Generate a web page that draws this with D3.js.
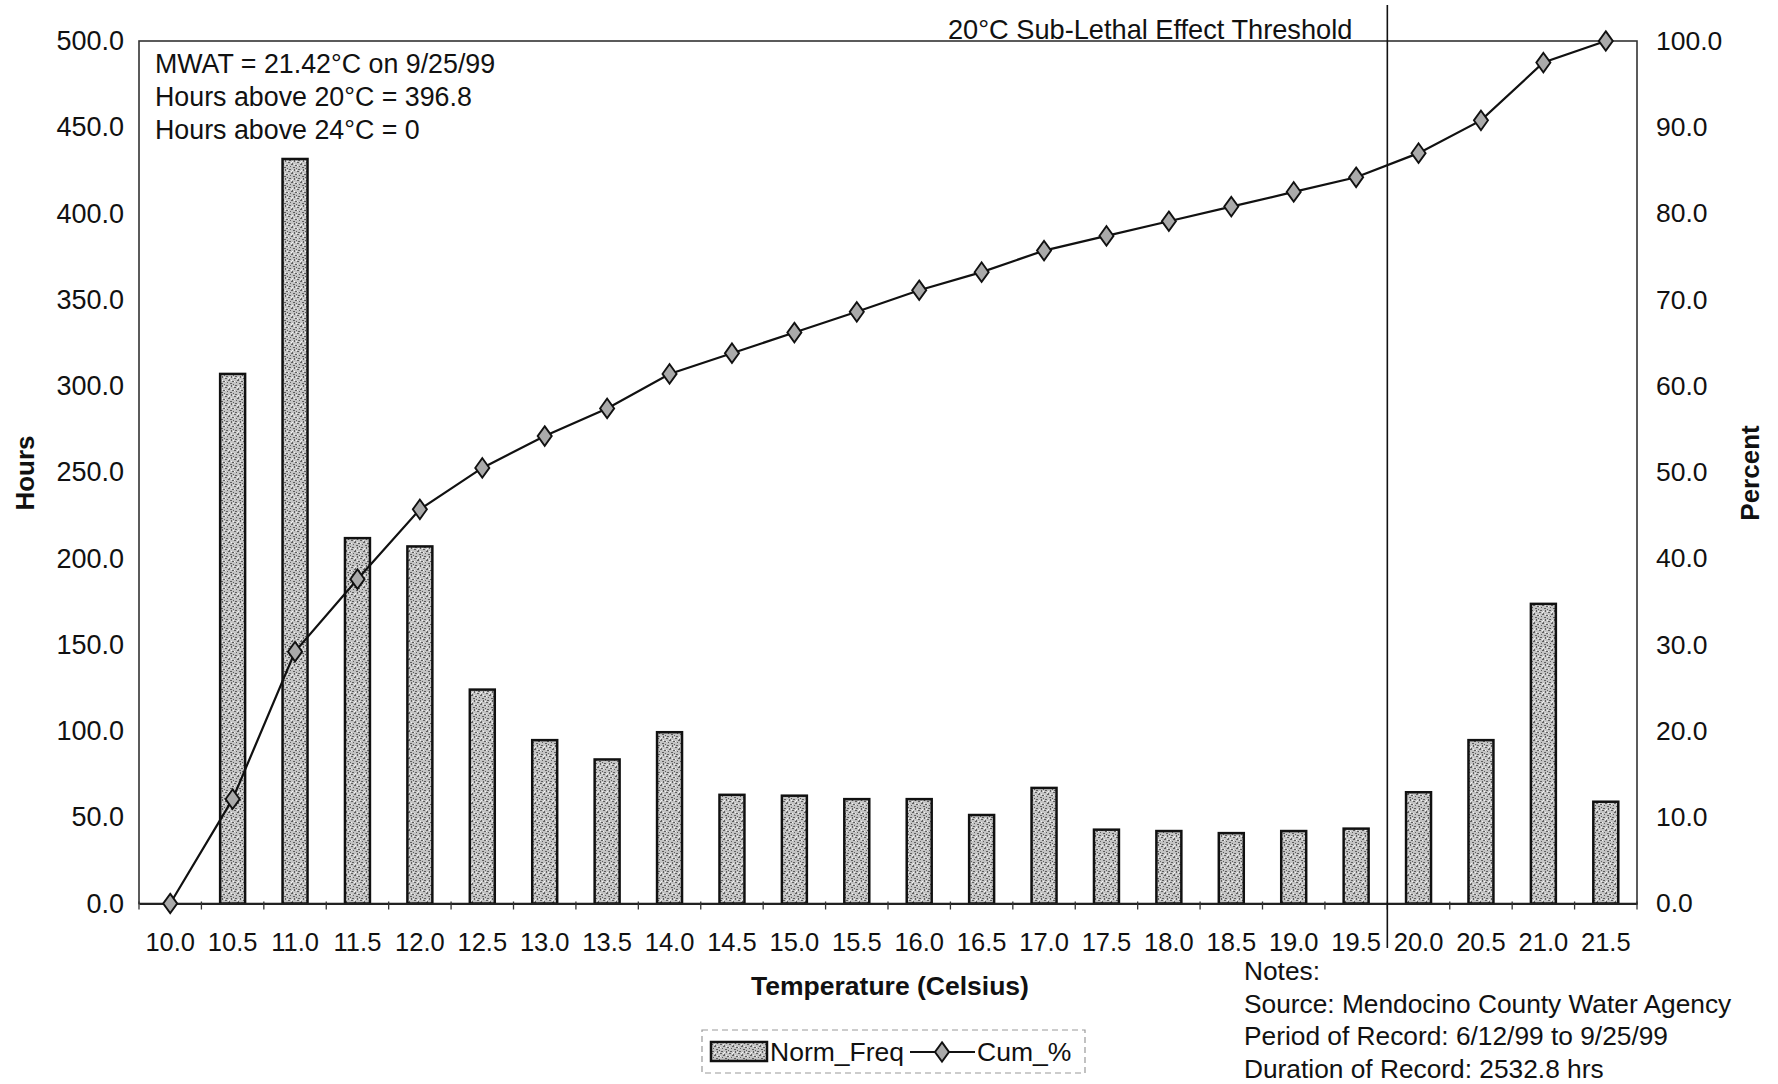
<!DOCTYPE html>
<html><head><meta charset="utf-8">
<script src="https://cdn.jsdelivr.net/npm/d3@7"></script>
<style>
html,body{margin:0;padding:0;background:#fff;}
svg text{font-family:"Liberation Sans",Arial,sans-serif;fill:#111;}
</style></head>
<body>
<svg id="chart" width="1778" height="1084"></svg>
<script>
const categories = ["10.0","10.5","11.0","11.5","12.0","12.5","13.0","13.5","14.0","14.5","15.0","15.5","16.0","16.5","17.0","17.5","18.0","18.5","19.0","19.5","20.0","20.5","21.0","21.5"];
const normFreq = [0,307,431.6,211.8,207,124,94.7,83.5,99.3,63,62.5,60.5,60.5,51.3,67,42.8,42,40.8,42,43.4,64.5,94.7,173.7,59];
const cumPct = [0,12.1,29.2,37.6,45.7,50.5,54.2,57.4,61.4,63.8,66.2,68.6,71.1,73.2,75.7,77.4,79.1,80.8,82.5,84.2,87.0,90.8,97.5,100];
const hoursTicks = [0,50,100,150,200,250,300,350,400,450,500];
const pctTicks = [0,10,20,30,40,50,60,70,80,90,100];
const annotLines = ["MWAT = 21.42°C on 9/25/99","Hours above 20°C = 396.8","Hours above 24°C = 0"];
const noteLines = ["Notes:","Source: Mendocino County Water Agency","Period of Record: 6/12/99 to 9/25/99","Duration of Record: 2532.8 hrs"];
const thresholdCategory = "20.0";
const thresholdLabel = "20°C Sub-Lethal Effect Threshold";

const svg = d3.select("#chart");
const L = 139, R = 1637, T = 41, B = 903.5;

const x = d3.scaleBand().domain(categories).range([L, R]).padding(0);
const yH = d3.scaleLinear().domain([0, 500]).range([B, T]);
const yP = d3.scaleLinear().domain([0, 100]).range([B, T]);

// stipple pattern (fixed, deterministic texture)
const defs = svg.append("defs");
const pat = defs.append("pattern").attr("id","stip").attr("patternUnits","userSpaceOnUse")
  .attr("width",9).attr("height",9);
pat.append("rect").attr("width",9).attr("height",9).attr("fill","#c4c4c4");
const specks = [[0,0,2,1],[4,1,1,2],[7,3,2,1],[2,4,1,1],[5,5,2,1],[1,7,2,1],[6,7,1,2],[3,2,1,1],[8,6,1,1]];
pat.selectAll("rect.s").data(specks).enter().append("rect").attr("class","s")
  .attr("x",d=>d[0]).attr("y",d=>d[1]).attr("width",d=>d[2]).attr("height",d=>d[3]).attr("fill","#5e5e5e");
const whites = [[3,0,1,1],[0,3,1,1],[6,2,1,1],[8,8,1,1],[4,8,1,1]];
pat.selectAll("rect.w").data(whites).enter().append("rect").attr("class","w")
  .attr("x",d=>d[0]).attr("y",d=>d[1]).attr("width",d=>d[2]).attr("height",d=>d[3]).attr("fill","#f2f2f2");

// plot frame
svg.append("rect").attr("x",L).attr("y",T).attr("width",R-L).attr("height",B-T)
  .attr("fill","none").attr("stroke","#333").attr("stroke-width",1.6);

// bars
const bw = x.bandwidth()*0.4;
svg.append("g").selectAll("rect").data(categories.map((c,i)=>({c,v:normFreq[i]})).filter(d=>d.v>0))
  .enter().append("rect")
  .attr("x",d=>x(d.c)+x.bandwidth()/2-bw/2)
  .attr("y",d=>yH(d.v))
  .attr("width",bw)
  .attr("height",d=>B-yH(d.v))
  .attr("fill","url(#stip)").attr("stroke","#111").attr("stroke-width",2.5);

// x axis
const xAxis = svg.append("g").attr("transform",`translate(0,${B})`)
  .call(d3.axisBottom(x).tickSize(0).tickPadding(0));
xAxis.select(".domain").attr("stroke","#222").attr("stroke-width",1.8);
xAxis.selectAll("text").remove();
const bounds = categories.map(c=>x(c)).concat([R]);
svg.append("g").selectAll("line").data(bounds).enter().append("line")
  .attr("x1",d=>d).attr("x2",d=>d).attr("y1",B-2).attr("y2",B+6)
  .attr("stroke","#333").attr("stroke-width",1.3);
svg.append("g").selectAll("text").data(categories).enter().append("text")
  .attr("x",d=>x(d)+x.bandwidth()/2).attr("y",951)
  .attr("text-anchor","middle").attr("font-size",25.5).text(d=>d);

// left axis labels
const yAxisL = svg.append("g").attr("transform",`translate(${L},0)`)
  .call(d3.axisLeft(yH).tickValues(hoursTicks).tickSize(0).tickPadding(15).tickFormat(d3.format(".1f")));
yAxisL.select(".domain").remove();
yAxisL.selectAll("text").attr("font-size",27).attr("font-family","Liberation Sans, Arial, sans-serif").attr("fill","#111");

const yAxisR = svg.append("g").attr("transform",`translate(${R},0)`)
  .call(d3.axisRight(yP).tickValues(pctTicks).tickSize(0).tickPadding(19).tickFormat(d3.format(".1f")));
yAxisR.select(".domain").remove();
yAxisR.selectAll("text").attr("font-size",26.5).attr("font-family","Liberation Sans, Arial, sans-serif").attr("fill","#111");

// cumulative line
const cx = c => x(c)+x.bandwidth()/2;
const lineData = categories.map((c,i)=>({c,v:cumPct[i]}));
svg.append("path").datum(lineData)
  .attr("d",d3.line().x(d=>cx(d.c)).y(d=>yP(d.v)))
  .attr("fill","none").attr("stroke","#111").attr("stroke-width",2.2);
const diamond = d3.symbol().type(d3.symbolDiamond).size(110);
svg.append("g").selectAll("path").data(lineData).enter().append("path")
  .attr("d",diamond)
  .attr("transform",d=>`translate(${cx(d.c)},${yP(d.v)}) scale(1.25,1)`)
  .attr("fill","#aaa").attr("stroke","#111").attr("stroke-width",1.6);

// threshold line
const tx = x(thresholdCategory);
svg.append("line").attr("x1",tx).attr("x2",tx).attr("y1",5).attr("y2",948)
  .attr("stroke","#111").attr("stroke-width",1.6);
svg.append("text").attr("x",tx-35).attr("y",39).attr("text-anchor","end")
  .attr("font-size",27.2).text(thresholdLabel);

// annotation
svg.append("g").selectAll("text").data(annotLines).enter().append("text")
  .attr("x",155).attr("y",(d,i)=>73+i*33).attr("font-size",26.8).text(d=>d);

// axis titles
svg.append("text").attr("transform","translate(34,473) rotate(-90)").attr("text-anchor","middle")
  .attr("font-size",26).attr("font-weight","bold").text("Hours");
svg.append("text").attr("transform","translate(1759,473) rotate(-90)").attr("text-anchor","middle")
  .attr("font-size",26).attr("font-weight","bold").text("Percent");
svg.append("text").attr("x",890).attr("y",995).attr("text-anchor","middle")
  .attr("font-size",26.5).attr("font-weight","bold").text("Temperature (Celsius)");

// notes
svg.append("g").selectAll("text").data(noteLines).enter().append("text")
  .attr("x",1244).attr("y",(d,i)=>980+i*32.5).attr("font-size",26.3).text(d=>d);

// legend
const lg = svg.append("g");
lg.append("rect").attr("x",702).attr("y",1030).attr("width",383).attr("height",43)
  .attr("fill","none").attr("stroke","#999").attr("stroke-width",1.2).attr("stroke-dasharray","6,4");
lg.append("rect").attr("x",711).attr("y",1042).attr("width",56).attr("height",19)
  .attr("fill","url(#stip)").attr("stroke","#111").attr("stroke-width",2.5);
lg.append("text").attr("x",770).attr("y",1061).attr("font-size",26.5).text("Norm_Freq");
lg.append("line").attr("x1",910).attr("x2",975).attr("y1",1052).attr("y2",1052)
  .attr("stroke","#111").attr("stroke-width",2.2);
lg.append("path").attr("d",diamond).attr("transform","translate(942,1052) scale(1.25,1)")
  .attr("fill","#aaa").attr("stroke","#111").attr("stroke-width",1.6);
lg.append("text").attr("x",977).attr("y",1061).attr("font-size",26.5).text("Cum_%");
</script>
</body></html>
